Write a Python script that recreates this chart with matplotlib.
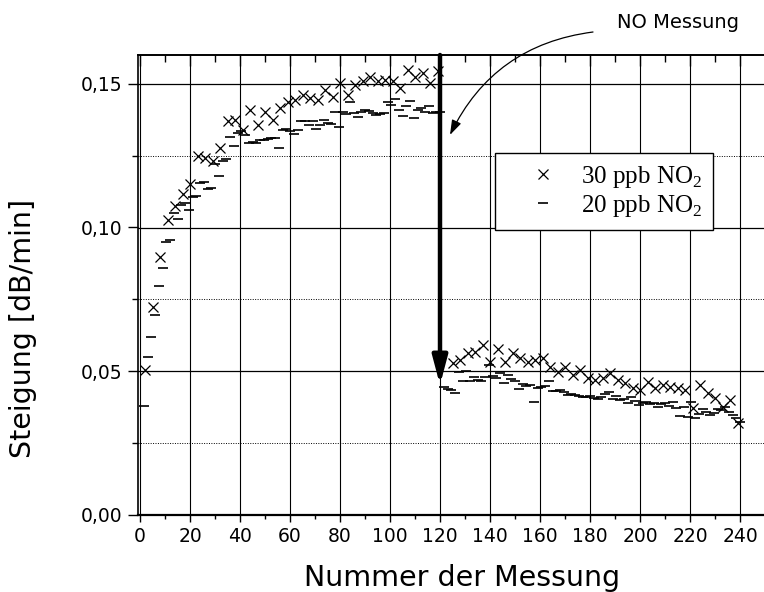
import numpy as np
import matplotlib
matplotlib.use("Agg")
import matplotlib.pyplot as plt
from matplotlib.ticker import MultipleLocator, FuncFormatter

# ---- data ----
# 30 ppb NO2, measured every 3rd number
x30_a = [2, 5, 8, 11, 14, 17, 20, 23, 26, 29, 32, 35, 38, 41, 44, 47, 50, 53, 56, 59,
         62, 65, 68, 71, 74, 77, 80, 83, 86, 89, 92, 95, 98, 101, 104, 107, 110, 113, 116, 119]
y30_a = [.0505, .0724, .0899, .1026, .1075, .1117, .1150, .1247, .1241, .1230,
         .1276, .1369, .1374, .1340, .1409, .1357, .1403, .1374, .1415, .1438,
         .1444, .1461, .1450, .1444, .1479, .1455, .1502, .1461, .1496, .1508,
         .1525, .1508, .1514, .1508, .1485, .1548, .1525, .1537, .1502, .1543]
x30_b = [125, 128, 131, 134, 137, 140, 143, 146, 149, 152, 155, 158, 161, 164, 167, 170,
         173, 176, 179, 182, 185, 188, 191, 194, 197, 200, 203, 206, 209, 212, 215, 218,
         221, 224, 227, 230, 233, 236, 239]
y30_b = [.0528, .0540, .0563, .0568, .0592, .0533, .0576, .0533, .0563, .0545,
         .0533, .0540, .0545, .0516, .0499, .0516, .0487, .0504, .0476, .0470,
         .0476, .0493, .0470, .0458, .0441, .0435, .0464, .0441, .0452, .0446,
         .0441, .0435, .0371, .0452, .0423, .0406, .0377, .0400, .0320]

# 20 ppb NO2, measured every 1.5
y20_a = [.0380, .0550, .0620, .0696, .0797, .0860, .0950, .0957, .1050, .1030,
         .1080, .1085, .1060, .1105, .1110, .1155, .1157, .1135, .1139, .1222,
         .1180, .1230, .1238, .1316, .1285, .1328, .1334, .1322, .1293, .1299,
         .1293, .1305, .1304, .1307, .1310, .1311, .1276, .1340, .1342, .1336,
         .1324, .1340, .1371, .1369, .1357, .1369, .1342, .1357, .1374, .1363,
         .1360, .1403, .1351, .1403, .1395, .1435, .1398, .1386, .1400, .1409,
         .1404, .1398, .1392, .1396, .1398, .1435, .1427, .1447, .1410, .1388,
         .1421, .1439, .1380, .1410, .1415, .1403, .1421, .1398, .1400, .1403]
y20_b = [.0445, .0440, .0435, .0423, .0499, .0467, .0502, .0466, .0481, .0470,
         .0466, .0481, .0522, .0484, .0478, .0495, .0460, .0487, .0472, .0465,
         .0437, .0456, .0450, .0452, .0394, .0441, .0446, .0449, .0466, .0431,
         .0432, .0435, .0429, .0417, .0420, .0417, .0414, .0412, .0410, .0415,
         .0408, .0405, .0412, .0420, .0429, .0403, .0414, .0400, .0405, .0391,
         .0410, .0395, .0383, .0390, .0394, .0385, .0391, .0375, .0385, .0389,
         .0380, .0394, .0371, .0345, .0375, .0342, .0394, .0336, .0350, .0368,
         .0360, .0348, .0355, .0368, .0365, .0375, .0360, .0348, .0336, .0325]
x20_a = 1.5 * np.arange(1, len(y20_a) + 1)
x20_b = 120 + 1.5 * np.arange(1, len(y20_b) + 1)

x30 = list(x30_a) + list(x30_b)
y30 = list(y30_a) + list(y30_b)
x20 = list(x20_a) + list(x20_b)
y20 = list(y20_a) + list(y20_b)

labels = ["30 ppb NO$_\\mathregular{2}$", "20 ppb NO$_\\mathregular{2}$"]
no_x = 120
no_tip = 0.0452

# ---- figure ----
plt.rcParams['font.family'] = ['DejaVu Sans']
fig = plt.figure(figsize=(7.64, 5.92), dpi=100)
L, B = 137.5 / 764, (592 - 515) / 592
W, H = (765 - 137.5) / 764, (515 - 55) / 592
ax = fig.add_axes([L, B, W, H])
ax.set_xlim(-1, 250)
ax.set_ylim(0, 0.16)

# grid
for xv in range(0, 241, 20):
    ax.axvline(xv, color='black', lw=0.8, zorder=1)
for yv in [0.05, 0.10, 0.15]:
    ax.axhline(yv, color='black', lw=0.9, zorder=1)
for yv in [0.025, 0.075, 0.125]:
    ax.axhline(yv, color='black', lw=0.7, ls=(0, (1, 1.5)), zorder=1)

ax.plot(x30, y30, ls='none', marker='x', ms=7.8, mew=0.9, color='black',
        label=labels[0], zorder=3)
ax.plot(x20, y20, ls='none', marker='_', ms=7.5, mew=1.2, color='black',
        label=labels[1], zorder=3)

# thick arrow at measurement 120
ax.annotate('', xy=(no_x, no_tip), xytext=(no_x, 0.16),
            arrowprops=dict(arrowstyle='-|>,head_length=1.7,head_width=0.45',
                            lw=3.2, color='black', mutation_scale=10,
                            shrinkA=0, shrinkB=0),
            zorder=4, annotation_clip=False)

# curved annotation arrow
ax.annotate('', xy=(124, 0.1322), xycoords='data',
            xytext=(593 / 764, 1 - 32 / 592), textcoords='figure fraction',
            arrowprops=dict(arrowstyle='-|>,head_length=0.9,head_width=0.3',
                            lw=0.9, color='black', mutation_scale=10,
                            connectionstyle='arc3,rad=0.27',
                            shrinkA=0, shrinkB=0),
            annotation_clip=False)
fig.text(678 / 764, 1 - 22 / 592, 'NO Messung', ha='center', va='center',
         fontsize=14, color='black')

# ticks
ax.xaxis.set_major_locator(MultipleLocator(20))
ax.xaxis.set_minor_locator(MultipleLocator(10))
ax.yaxis.set_major_locator(MultipleLocator(0.05))
ax.yaxis.set_minor_locator(MultipleLocator(0.025))
ax.yaxis.set_major_formatter(FuncFormatter(lambda v, p: f"{v:.2f}".replace('.', ',')))
ax.tick_params(axis='x', which='major', direction='out', length=5, width=1,
               labelsize=13.5, pad=4, top=False)
ax.tick_params(axis='x', which='minor', direction='out', length=3, width=1, top=False)
ax.tick_params(axis='y', which='major', direction='out', length=7, width=1,
               labelsize=13.5, pad=4)
ax.tick_params(axis='y', which='minor', direction='out', length=4, width=1)
# inward ticks on top
axt = ax.secondary_xaxis('top')
axt.xaxis.set_major_locator(MultipleLocator(20))
axt.xaxis.set_minor_locator(MultipleLocator(10))
axt.tick_params(which='major', direction='in', length=8, width=1, labeltop=False)
axt.tick_params(which='minor', direction='in', length=5, width=1)
axt.spines['top'].set_linewidth(1.2)
for s in ax.spines.values():
    s.set_linewidth(1.2)
ax.spines['bottom'].set_linewidth(1.6)

# axis titles placed as in the reference
fig.text(462 / 764, 1 - 578 / 592, 'Nummer der Messung', ha='center', va='center',
         fontsize=20.5)
fig.text(23 / 764, 1 - 328 / 592, 'Steigung [dB/min]', ha='center', va='center',
         rotation=90, fontsize=20.5)

leg = ax.legend(loc='center', bbox_to_anchor=(604 / 764, 1 - 191.5 / 592),
                bbox_transform=fig.transFigure,
                prop={'family': 'Liberation Serif', 'size': 18},
                frameon=True, fancybox=False, shadow=False,
                borderpad=0.45, labelspacing=0.12, handlelength=3.0,
                handletextpad=0.0, numpoints=1, borderaxespad=0)
leg.get_frame().set_edgecolor('black')
leg.get_frame().set_linewidth(1.0)
leg.get_frame().set_alpha(1)
leg.set_zorder(5)

fig.savefig('out.png', dpi=100)
